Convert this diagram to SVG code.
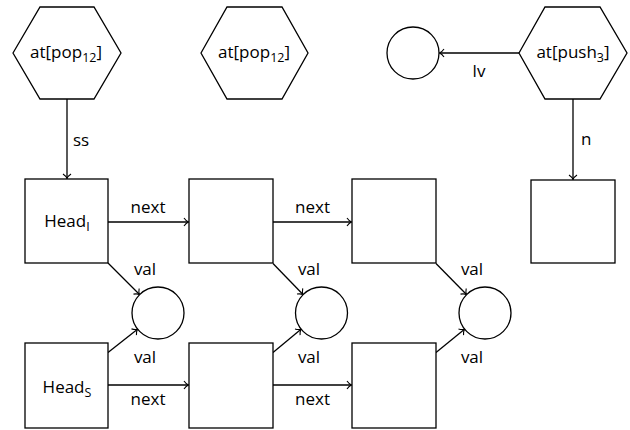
<svg xmlns="http://www.w3.org/2000/svg" width="630" height="430" viewBox="0 0 630 430">
<style>
.s{fill:#fff;stroke:#000;stroke-width:1.3}
.e{fill:none;stroke:#000;stroke-width:1.3;marker-end:url(#a)}
text{font-family:"Open Sans","Liberation Sans",sans-serif;font-size:17px;fill:#000}
.c{text-anchor:middle}
.sub{font-size:12.5px}
</style>
<defs>
<marker id="a" markerUnits="userSpaceOnUse" viewBox="-6 -5 7 10" markerWidth="7" markerHeight="10" refX="0" refY="0" orient="auto">
<path d="M-4.5,-4 C-3,-1.8 -1.2,-0.5 0,0 C-1.2,0.5 -3,1.8 -4.5,4" fill="none" stroke="#000" stroke-width="1.1"/>
</marker>
</defs>
<rect width="630" height="430" fill="#fff"/>
<g id="edges">
<line class="e" x1="67" y1="99" x2="67" y2="178.5"/>
<line class="e" x1="519" y1="53" x2="439.5" y2="53"/>
<line class="e" x1="573" y1="99" x2="573" y2="179.5"/>
<line class="e" x1="108" y1="222" x2="188.5" y2="222"/>
<line class="e" x1="273" y1="222" x2="351.5" y2="222"/>
<line class="e" x1="108" y1="385" x2="188.5" y2="385"/>
<line class="e" x1="273" y1="385" x2="351.5" y2="385"/>
<line class="e" x1="108" y1="263" x2="139.5" y2="294.5"/>
<line class="e" x1="273" y1="263.5" x2="303" y2="294.5"/>
<line class="e" x1="436" y1="263.5" x2="466.5" y2="294.5"/>
<line class="e" x1="108" y1="352.5" x2="137.5" y2="329.2"/>
<line class="e" x1="273" y1="352.5" x2="301" y2="329.2"/>
<line class="e" x1="436" y1="352.5" x2="464.5" y2="329.2"/>
<text x="73" y="146">ss</text>
<text class="c" x="479" y="77">lv</text>
<text x="581" y="145">n</text>
<text class="c" x="148" y="213">next</text>
<text class="c" x="312.5" y="213">next</text>
<text class="c" x="148" y="405">next</text>
<text class="c" x="312.5" y="405">next</text>
<text class="c" x="145" y="275">val</text>
<text class="c" x="309" y="275">val</text>
<text class="c" x="472" y="275">val</text>
<text class="c" x="145" y="363">val</text>
<text class="c" x="309" y="363">val</text>
<text class="c" x="472" y="363">val</text>
</g>
<g id="hex1">
<polygon class="s" points="13,53 40,7 94,7 121,53 94,99 40,99"/>
<text class="c" x="66" y="58">at[pop<tspan class="sub" dy="4">12</tspan><tspan dy="-4">]</tspan></text>
</g>
<g id="hex2">
<polygon class="s" points="201,53 227,7 282,7 308,53 282,99 227,99"/>
<text class="c" x="254" y="58">at[pop<tspan class="sub" dy="4">12</tspan><tspan dy="-4">]</tspan></text>
</g>
<g id="hex3">
<polygon class="s" points="519,53 545,7 600,7 627,53 600,99 545,99"/>
<text class="c" x="573" y="58">at[push<tspan class="sub" dy="4">3</tspan><tspan dy="-4">]</tspan></text>
</g>
<g id="circleTop"><circle class="s" cx="413" cy="53" r="26"/></g>
<g id="boxTop"><rect class="s" x="531" y="180" width="84" height="83"/></g>
<g id="headI">
<rect class="s" x="25" y="179" width="83" height="84"/>
<text class="c" x="67" y="227">Head<tspan class="sub" dy="4">I</tspan></text>
</g>
<g id="box2"><rect class="s" x="189" y="179" width="84" height="84"/></g>
<g id="box3"><rect class="s" x="352" y="179" width="84" height="84"/></g>
<g id="headS">
<rect class="s" x="25" y="343" width="83" height="85"/>
<text class="c" x="67" y="393">Head<tspan class="sub" dy="4">S</tspan></text>
</g>
<g id="box5"><rect class="s" x="189" y="343" width="84" height="85"/></g>
<g id="box6"><rect class="s" x="352" y="343" width="84" height="85"/></g>
<g id="c1"><circle class="s" cx="158" cy="313" r="26"/></g>
<g id="c2"><circle class="s" cx="321.5" cy="313" r="26"/></g>
<g id="c3"><circle class="s" cx="485" cy="313" r="26"/></g>
</svg>
